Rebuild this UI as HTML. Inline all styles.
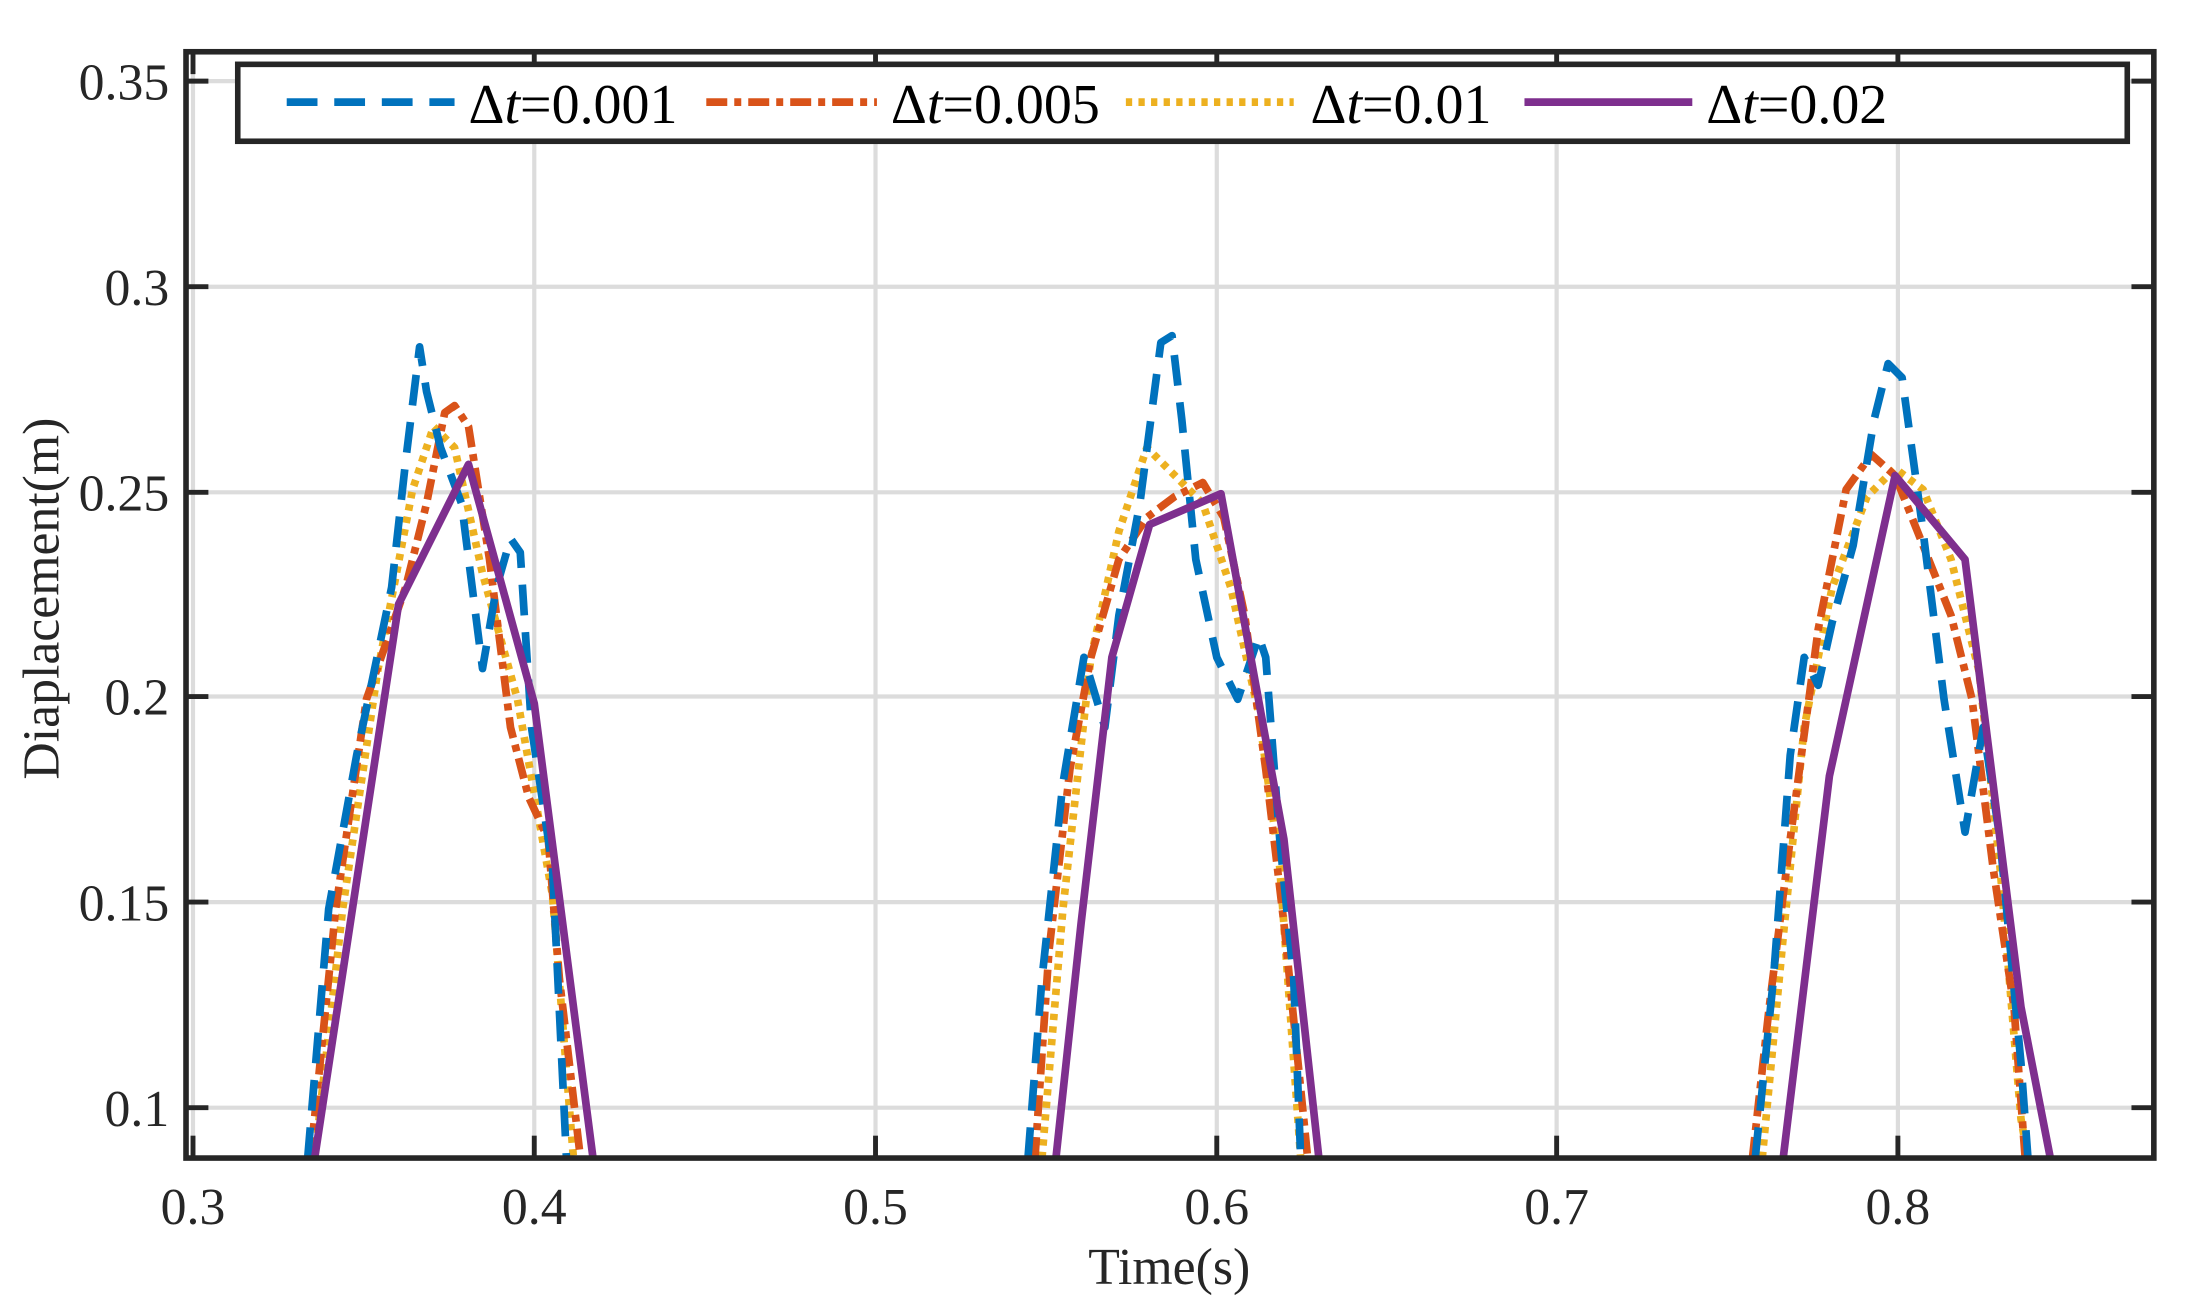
<!DOCTYPE html>
<html><head><meta charset="utf-8"><style>
html,body{margin:0;padding:0;background:#fff;}
svg{display:block;}
text{font-family:"Liberation Serif",serif;fill:#262626;}
</style></head><body>
<svg width="2193" height="1314" viewBox="0 0 1568 939.5" preserveAspectRatio="none">
<defs><clipPath id="c"><rect x="133" y="37" width="1407" height="791"/></clipPath></defs>
<rect x="0" y="0" width="1568" height="940" fill="#fff"/>
<g stroke="#dcdcdc" stroke-width="3">
<line x1="138" y1="37" x2="138" y2="828"/><line x1="382" y1="37" x2="382" y2="828"/>
<line x1="626" y1="37" x2="626" y2="828"/><line x1="870" y1="37" x2="870" y2="828"/>
<line x1="1113" y1="37" x2="1113" y2="828"/><line x1="1357" y1="37" x2="1357" y2="828"/>
<line x1="133" y1="58" x2="1540" y2="58"/><line x1="133" y1="205" x2="1540" y2="205"/>
<line x1="133" y1="352" x2="1540" y2="352"/><line x1="133" y1="498" x2="1540" y2="498"/>
<line x1="133" y1="645" x2="1540" y2="645"/><line x1="133" y1="792" x2="1540" y2="792"/>
</g>
<g clip-path="url(#c)" fill="none" stroke-width="5.5" stroke-linejoin="round">
<g stroke="#EDB120" stroke-dasharray="4.5,4.5">
<polyline points="225,828 245,650 270,480 295,350 310,305 325,320 345,410 370,500 395,640 410,828"/>
<polyline points="745,828 760,650 780,470 800,380 820,320 840,340 860,360 880,420 900,510 915,620 930,828"/>
<polyline points="1260,828 1275,670 1290,520 1310,420 1335,355 1355,335 1375,350 1395,400 1415,480 1430,620 1445,800 1450,828"/>
</g>
<g stroke="#D95319" stroke-dasharray="15,5,5,5">
<polyline points="222,828 240,650 262,500 290,420 305,360 318,295 325,290 335,305 350,400 365,520 378,570 392,600 400,700 415,828"/>
<polyline points="740,828 750,680 765,550 780,470 800,400 820,370 840,355 860,345 875,370 890,440 905,550 918,660 935,828"/>
<polyline points="1253,828 1265,720 1280,600 1300,450 1320,350 1338,325 1355,340 1375,390 1395,440 1410,500 1425,620 1440,720 1448,828"/>
</g>
<g stroke="#0072BD" stroke-dasharray="22,12">
<polyline points="220,828 235,650 255,540 280,420 290,330 300,248 305,280 315,320 330,360 345,478 355,420 365,385 372,395 380,520 395,620 405,828"/>
<polyline points="735,828 745,700 760,560 775,470 790,520 800,440 815,360 830,245 838,240 845,300 855,400 870,470 885,500 900,455 905,470 915,600 925,700 930,828"/>
<polyline points="1255,828 1268,700 1280,540 1290,470 1300,490 1310,445 1325,390 1340,300 1350,260 1360,270 1375,380 1390,500 1405,595 1418,520 1430,600 1445,760 1450,828"/>
</g>
<g stroke="#7E2F8E">
<polyline points="225,828 285,432 335,332 382,503 424,828"/>
<polyline points="755,828 773,660 795,470 822,375 873,353 918,600 943,828"/>
<polyline points="1275,828 1308,555 1355,340 1405,400 1445,720 1466,828"/>
</g>
</g>
<g stroke="#262626" stroke-width="3.5">
<line x1="138" y1="828" x2="138" y2="812"/><line x1="382" y1="828" x2="382" y2="812"/><line x1="626" y1="828" x2="626" y2="812"/><line x1="870" y1="828" x2="870" y2="812"/><line x1="1113" y1="828" x2="1113" y2="812"/><line x1="1357" y1="828" x2="1357" y2="812"/>
<line x1="138" y1="37" x2="138" y2="53"/><line x1="382" y1="37" x2="382" y2="53"/><line x1="626" y1="37" x2="626" y2="53"/><line x1="870" y1="37" x2="870" y2="53"/><line x1="1113" y1="37" x2="1113" y2="53"/><line x1="1357" y1="37" x2="1357" y2="53"/>
<line x1="133" y1="58" x2="149" y2="58"/><line x1="133" y1="205" x2="149" y2="205"/><line x1="133" y1="352" x2="149" y2="352"/><line x1="133" y1="498" x2="149" y2="498"/><line x1="133" y1="645" x2="149" y2="645"/><line x1="133" y1="792" x2="149" y2="792"/>
<line x1="1540" y1="58" x2="1524" y2="58"/><line x1="1540" y1="205" x2="1524" y2="205"/><line x1="1540" y1="352" x2="1524" y2="352"/><line x1="1540" y1="498" x2="1524" y2="498"/><line x1="1540" y1="645" x2="1524" y2="645"/><line x1="1540" y1="792" x2="1524" y2="792"/>
</g>
<rect x="133" y="37" width="1407" height="791" fill="none" stroke="#262626" stroke-width="4"/>
<rect x="170" y="46" width="1351" height="55" fill="#fff" stroke="#262626" stroke-width="4"/>
<line x1="205" y1="73" x2="325" y2="73" stroke="#0072BD" stroke-width="5.5" stroke-dasharray="22,12"/>
<line x1="505" y1="73" x2="627" y2="73" stroke="#D95319" stroke-width="5.5" stroke-dasharray="15,5,5,5"/>
<line x1="805" y1="73" x2="925" y2="73" stroke="#EDB120" stroke-width="5.5" stroke-dasharray="4.5,4.5"/>
<line x1="1090" y1="73" x2="1210" y2="73" stroke="#7E2F8E" stroke-width="5.5"/>
<g font-size="40">
<text x="335" y="88" style="fill:#000">Δ<tspan font-style="italic">t</tspan>=0.001</text>
<text x="637" y="88" style="fill:#000">Δ<tspan font-style="italic">t</tspan>=0.005</text>
<text x="937" y="88" style="fill:#000">Δ<tspan font-style="italic">t</tspan>=0.01</text>
<text x="1220" y="88" style="fill:#000">Δ<tspan font-style="italic">t</tspan>=0.02</text>
</g>
<g font-size="37" text-anchor="end">
<text x="121" y="71">0.35</text><text x="121" y="218">0.3</text><text x="121" y="365">0.25</text>
<text x="121" y="511">0.2</text><text x="121" y="658">0.15</text><text x="121" y="805">0.1</text>
</g>
<g font-size="37" text-anchor="middle">
<text x="138" y="875">0.3</text><text x="382" y="875">0.4</text><text x="626" y="875">0.5</text>
<text x="870" y="875">0.6</text><text x="1113" y="875">0.7</text><text x="1357" y="875">0.8</text>
<text x="836" y="918">Time(s)</text>
<text transform="translate(42,428) rotate(-90)">Diaplacement(m)</text>
</g>
</svg>
</body></html>
